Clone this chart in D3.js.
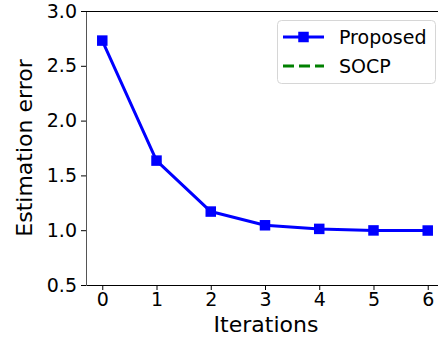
<!DOCTYPE html>
<html lang="en">
<head>
    <meta charset="UTF-8">
    <title>Estimation error vs iterations</title>
    <script src="https://d3js.org/d3.v7.min.js"></script>
    <style>
        * { margin: 0; padding: 0; box-sizing: border-box; }
        body { background: #fff; font-family: "DejaVu Sans", sans-serif; }
        svg { display: block; }
        .tick text { font-family: "DejaVu Sans", sans-serif; fill: #000; }
    </style>
</head>
<body>
    <div id="chart"></div>

    <script>
        // data
        const iterations = [0, 1, 2, 3, 4, 5, 6];
        const proposed = [2.73, 1.635, 1.17, 1.045, 1.012, 0.998, 0.997];
        const socp = [];   // in the legend only, no visible points
        const xTicks = [0, 1, 2, 3, 4, 5, 6];
        const yTicks = [0.5, 1.0, 1.5, 2.0, 2.5, 3.0];

        const W = 438, H = 337;
        const svg = d3.select("#chart").append("svg")
            .attr("width", W)
            .attr("height", H);

        const x = d3.scaleLinear().domain([-0.3, 6.3]).range([86, 444]);
        const y = d3.scaleLinear().domain([0.5, 3.0]).range([285, 11]);

        // x axis
        const xAxis = svg.append("g")
            .attr("transform", "translate(0,285)")
            .call(d3.axisBottom(x).tickValues(xTicks).tickFormat(d3.format("d"))
                .tickSize(5).tickPadding(3).tickSizeOuter(0));
        xAxis.select(".domain").attr("stroke", "#000");
        xAxis.selectAll("text").style("font-size", "19px");

        // y axis
        const yAxis = svg.append("g")
            .attr("transform", "translate(86,0)")
            .call(d3.axisLeft(y).tickValues(yTicks).tickFormat(d3.format(".1f"))
                .tickSize(5).tickPadding(4).tickSizeOuter(0));
        yAxis.select(".domain").attr("stroke", "#555");
        yAxis.selectAll("text").style("font-size", "19px");

        // top spine
        svg.append("line")
            .attr("x1", 86).attr("x2", W)
            .attr("y1", 11.5).attr("y2", 11.5)
            .attr("stroke", "#000");

        // axis labels
        svg.append("text")
            .attr("x", 266).attr("y", 332)
            .attr("text-anchor", "middle")
            .style("font-size", "22px")
            .text("Iterations");

        svg.append("text")
            .attr("transform", "translate(32,148) rotate(-90)")
            .attr("text-anchor", "middle")
            .style("font-size", "22px")
            .text("Estimation error");

        // proposed line
        const pts = iterations.map((d, i) => [d, proposed[i]]);
        const line = d3.line().x(d => x(d[0])).y(d => y(d[1]));

        svg.append("path")
            .datum(pts)
            .attr("fill", "none")
            .attr("stroke", "#0000ff")
            .attr("stroke-width", 3)
            .attr("stroke-linejoin", "round")
            .attr("d", line);

        const ms = 10.5;
        svg.selectAll(".marker")
            .data(pts)
            .enter().append("rect")
            .attr("class", "marker")
            .attr("x", d => x(d[0]) - ms / 2)
            .attr("y", d => y(d[1]) - ms / 2)
            .attr("width", ms).attr("height", ms)
            .attr("fill", "#0000ff");

        // legend
        const lg = svg.append("g");
        lg.append("rect")
            .attr("x", 277.5).attr("y", 20.5)
            .attr("width", 158).attr("height", 63)
            .attr("rx", 4)
            .attr("fill", "#fff").attr("fill-opacity", 0.8)
            .attr("stroke", "#d6d6d6");

        lg.append("line")
            .attr("x1", 283).attr("x2", 324)
            .attr("y1", 37).attr("y2", 37)
            .attr("stroke", "#0000ff").attr("stroke-width", 3);
        lg.append("rect")
            .attr("x", 303.5 - ms / 2).attr("y", 37 - ms / 2)
            .attr("width", ms).attr("height", ms)
            .attr("fill", "#0000ff");
        lg.append("text")
            .attr("x", 339).attr("y", 44)
            .style("font-size", "19px")
            .text("Proposed");

        lg.append("line")
            .attr("x1", 283).attr("x2", 324)
            .attr("y1", 66).attr("y2", 66)
            .attr("stroke", "#008000").attr("stroke-width", 3)
            .attr("stroke-dasharray", "11,5");
        lg.append("text")
            .attr("x", 339).attr("y", 73)
            .style("font-size", "19px")
            .text("SOCP");
    </script>
</body>
</html>
